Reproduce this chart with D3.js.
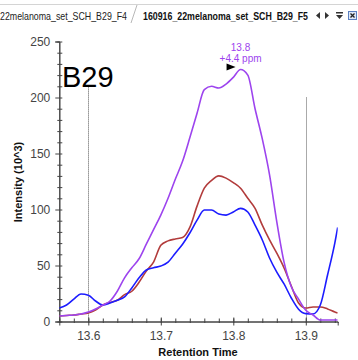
<!DOCTYPE html>
<html>
<head>
<meta charset="utf-8">
<script src="https://cdn.jsdelivr.net/npm/d3@7"></script>
<style>
  body { margin: 0; background: #fff; }
  text { font-family: "Liberation Sans", Arial, sans-serif; }
</style>
</head>
<body>
<svg id="chart"></svg>
<script>
// retention times (min) and intensities (10^3) per transition
const times = [13.56, 13.57, 13.58, 13.59, 13.60, 13.61, 13.62, 13.63, 13.64, 13.65,
               13.66, 13.67, 13.68, 13.69, 13.70, 13.71, 13.72, 13.73, 13.74, 13.75,
               13.76, 13.77, 13.78, 13.79, 13.80, 13.81, 13.82, 13.83, 13.84, 13.85,
               13.86, 13.87, 13.88, 13.89, 13.90, 13.91, 13.92, 13.93, 13.94, 13.944];
const purpleVals = [4.9, 5.4, 5.8, 6.7, 8.5, 11.2, 14.7, 18.3, 27, 39,
                    48, 56, 69, 82, 95, 110, 127, 143, 164, 186,
                    207, 210, 208.5, 212, 218, 225, 220, 190, 163, 131,
                    89, 53, 31, 20, 10, 5.8, 1.3, 1.3, 1.3, 1.3];
const brownVals = [4.9, 5.4, 5.8, 6.7, 7.6, 10.3, 14.7, 17, 19, 24,
                   27, 35, 45, 53, 68, 72, 73.7, 75, 84, 103,
                   119, 126, 130, 128, 124, 119, 110, 101, 86, 72.8,
                   61, 47.8, 31.7, 16.5, 12, 13, 13, 11.2, 8.5, 7.6];
const blueVals = [12, 14.7, 20, 24.5, 23.5, 18.3, 14.7, 16.5, 19, 22,
                  30, 39, 46, 48, 49.5, 53, 61, 69, 79, 90.5,
                  99.5, 99.5, 96, 95, 97.8, 101, 97.8, 86, 72.8, 56.7,
                  44, 33.5, 21, 11, 7, 6.7, 14.7, 41.5, 70, 84];
const seriesNames = ['brown', 'blue', 'purple'];
const seriesColors = {purple: '#9d44ee', brown: '#b23c3c', blue: '#1c1cff'};

const yMajor = [0, 50, 100, 150, 200, 250];
const xMajor = [13.6, 13.7, 13.8, 13.9];
const peakLabel = ['13.8', '+4.4 ppm'];
const peakPoint = {t: 13.81, v: 225};
// dotted integration boundaries: time and top intensity
const boundaries = [{t: 13.6, top: 209}, {t: 13.9, top: 200}];
const tabLabels = ['22melanoma_set_SCH_B29_F4', '160916_22melanoma_set_SCH_B29_F5'];

const W = 358, H = 360;
const svg = d3.select('#chart').attr('width', W).attr('height', H);

svg.append('rect').attr('width', W).attr('height', H).attr('fill', '#fff');

// ---- tab strip ----
const tabs = svg.append('g');
tabs.append('line').attr('x1', 0).attr('x2', W).attr('y1', 4.5).attr('y2', 4.5)
    .attr('stroke', '#d4d4d4');
tabs.append('line').attr('x1', 131).attr('y1', 23).attr('x2', 137).attr('y2', 5)
    .attr('stroke', '#b8b8b8');
tabs.append('text').attr('x', 0).attr('y', 20).attr('font-size', 10.5)
    .attr('textLength', 127).attr('lengthAdjust', 'spacingAndGlyphs')
    .attr('fill', '#222').text(tabLabels[0]);
tabs.append('text').attr('x', 143).attr('y', 20).attr('font-size', 10.5)
    .attr('font-weight', 'bold').attr('textLength', 165).attr('lengthAdjust', 'spacingAndGlyphs')
    .attr('fill', '#111').text(tabLabels[1]);
tabs.append('path').attr('d', 'M316,15.5 L320,12 L320,19 Z').attr('fill', '#333');
tabs.append('path').attr('d', 'M329,15.5 L325,12 L325,19 Z').attr('fill', '#333');
tabs.append('rect').attr('x', 336).attr('y', 12).attr('width', 7).attr('height', 1.5).attr('fill', '#333');
tabs.append('path').attr('d', 'M336,15 L343,15 L339.5,19 Z').attr('fill', '#333');
tabs.append('rect').attr('x', 348.5).attr('y', 11.5).attr('width', 8).attr('height', 8)
    .attr('fill', '#dde8f8').attr('stroke', '#5a7fc0');
tabs.append('path').attr('d', 'M350.5,13.5 L354.5,17.5 M354.5,13.5 L350.5,17.5')
    .attr('stroke', '#222').attr('stroke-width', 1.3);

// ---- scales ----
const x = d3.scaleLinear().domain([13.56, 13.944]).range([59.3, 337.7]);
const y = d3.scaleLinear().domain([0, 250]).range([321.5, 41.5]);

// ---- axes ----
const yAxisG = svg.append('g').attr('transform', `translate(${x.range()[0]},0)`);
yAxisG.call(d3.axisLeft(y).tickValues(d3.range(0, 251, 10).filter(v => v % 50 !== 0))
    .tickSize(2).tickFormat(''));
yAxisG.selectAll('.tick line').attr('x2', -2).attr('x1', 3);
const yMajG = svg.append('g').attr('transform', `translate(${x.range()[0]},0)`);
yMajG.call(d3.axisLeft(y).tickValues(yMajor).tickSize(4).tickPadding(5));
yMajG.selectAll('.tick line').attr('x1', 3);

const xAxisG = svg.append('g').attr('transform', `translate(0,${y(0)})`);
xAxisG.call(d3.axisBottom(x).tickValues(d3.range(0, 20).map(i => 13.56 + i * 0.02))
    .tickSize(1.5).tickFormat(''));
xAxisG.selectAll('.tick line').attr('y1', -3);
const xMajG = svg.append('g').attr('transform', `translate(0,${y(0)})`);
xMajG.call(d3.axisBottom(x).tickValues(xMajor).tickSize(4).tickPadding(6)
    .tickFormat(d3.format('.1f')));
xMajG.selectAll('.tick line').attr('y1', -4);

[yAxisG, yMajG, xAxisG, xMajG].forEach(g => {
  g.selectAll('path.domain').attr('stroke', '#444');
  g.selectAll('.tick line').attr('stroke', '#444');
  g.selectAll('text').attr('font-size', 12).attr('fill', '#444')
      .attr('font-family', '"Liberation Sans", Arial, sans-serif');
});

svg.append('text').attr('transform', 'translate(22,182) rotate(-90)')
    .attr('text-anchor', 'middle').attr('font-size', 11).attr('font-weight', 'bold')
    .attr('fill', '#111').text('Intensity (10^3)');
svg.append('text').attr('x', 198).attr('y', 356)
    .attr('text-anchor', 'middle').attr('font-size', 11).attr('font-weight', 'bold')
    .attr('fill', '#111').text('Retention Time');

// ---- boundaries ----
svg.selectAll('.boundary').data(boundaries).join('line')
    .attr('class', 'boundary')
    .attr('x1', d => Math.round(x(d.t)) + 0.5).attr('x2', d => Math.round(x(d.t)) + 0.5)
    .attr('y1', d => y(d.top)).attr('y2', y(0))
    .attr('stroke', '#555').attr('stroke-dasharray', '1,1');

svg.append('text').attr('x', 62).attr('y', 87).attr('font-size', 29)
    .attr('fill', '#000').text('B29');

// ---- chromatograms ----
svg.append('clipPath').attr('id', 'plotClip').append('rect')
    .attr('x', x.range()[0]).attr('y', 30).attr('width', x.range()[1] - x.range()[0])
    .attr('height', y(0) - 30);

const valuesBy = {purple: purpleVals, brown: brownVals, blue: blueVals};
const line = d3.line()
    .x(d => x(d[0]))
    .y(d => y(d[1]))
    .curve(d3.curveMonotoneX);

svg.append('g').attr('clip-path', 'url(#plotClip)')
  .selectAll('path')
    .data(seriesNames)
  .join('path')
    .attr('fill', 'none')
    .attr('stroke', d => seriesColors[d])
    .attr('stroke-width', 1.6)
    .attr('d', d => line(times.map((t, i) => [t, valuesBy[d][i]])));

// ---- peak annotation ----
const px = x(peakPoint.t), py = y(peakPoint.v);
svg.selectAll('.peakLabel').data(peakLabel).join('text')
    .attr('class', 'peakLabel')
    .attr('x', px).attr('y', (d, i) => py - 19 + i * 11)
    .attr('text-anchor', 'middle').attr('font-size', 10)
    .attr('fill', seriesColors.purple).text(d => d);
svg.append('path')
    .attr('d', `M${px - 14},${py - 6} L${px - 5},${py - 2.5} L${px - 14},${py + 1} Z`)
    .attr('fill', '#000');
</script>
</body>
</html>
